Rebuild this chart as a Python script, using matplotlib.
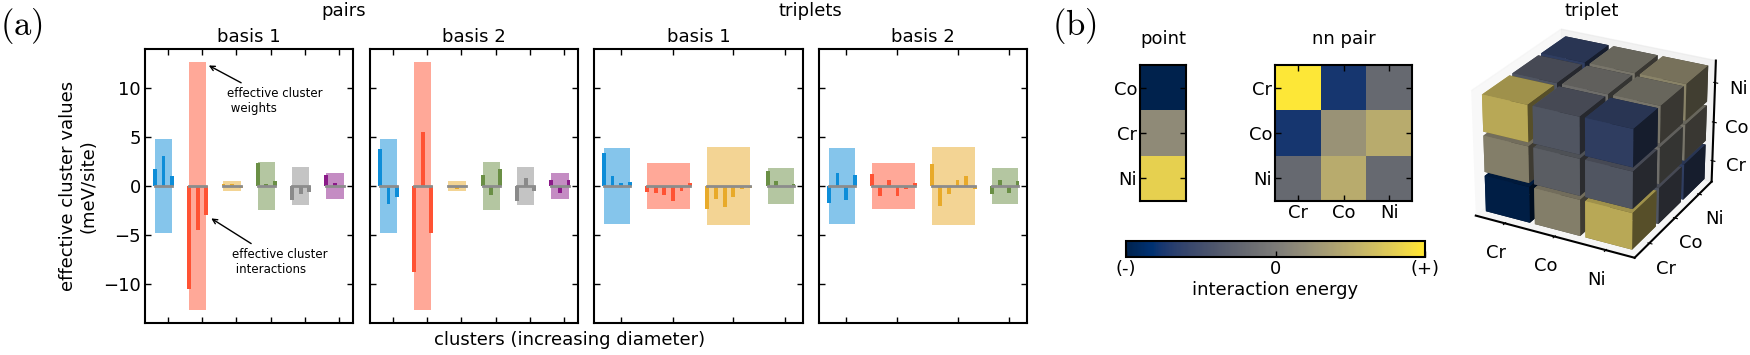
import numpy as np
import matplotlib
matplotlib.use('Agg')
import matplotlib.pyplot as plt
from matplotlib.colors import Normalize

plt.rcParams['mathtext.fontset'] = 'cm'

W, H = 1750, 355

# (a) effective cluster interactions (bars) and weights (shaded boxes), meV/site
pair_colors = ['#0d8dd8', '#ff5233', '#e8aa2a', '#6a8f45', '#8a8a8a', '#8b1a89']
pairs_b1_eci = [[1.7, 3.05, 1.0], [-10.5, -4.5, -2.95], [0.25, 0.25, -0.2],
                [2.4, 0.2, 0.48], [-1.43, -0.82, -0.58], [1.16, 0.27, 0.05]]
pairs_b2_eci = [[3.8, -1.84, -1.1], [-8.74, 5.5, -4.76], [0.05, -0.34, 0.05],
                [1.12, -0.92, 1.75], [-1.5, 0.78, -0.55], [0.6, -0.68, 0.6]]
pairs_ecw = [4.76, 12.7, 0.55, 2.48, 1.93, 1.3]

trip_b1_eci = [[3.33, 1.02, 0.3, 0.4],
               [-0.6, -0.75, -0.88, -1.56, -0.48, 0.3],
               [-2.38, -1.3, -2.18, -1.09, -0.27, -0.17],
               [1.56, 0.48, 0.03, 0.2]]
trip_b2_eci = [[-1.77, 1.3, -1.4, 1.16],
               [1.19, -1.02, 0.6, -1.0, -0.34, 0.3],
               [2.28, -2.0, -0.85, 0.6, 0.99, -0.3],
               [-0.78, 0.58, -0.71, 0.48]]
trip_ecw = [3.91, 2.3, 4.0, 1.87]

# (b) interaction energies, normalised to [-1, 1]
point_labels = ['Co', 'Cr', 'Ni']
point_vals = [[-1.0], [0.16], [0.82]]
elem_labels = ['Cr', 'Co', 'Ni']
nn_pair_vals = [[1.0, -0.76, -0.2],
                [-0.76, 0.24, 0.48],
                [-0.2, 0.48, -0.2]]
# triplet_vals[x][y][z]
triplet_vals = [[[-1.0, 0.2, 0.65], [0.2, -0.2, -0.3], [0.65, -0.3, -0.6]],
                [[0.2, -0.2, -0.3], [-0.2, 0.0, 0.0], [-0.3, 0.0, 0.1]],
                [[0.65, -0.3, -0.6], [-0.3, 0.0, 0.1], [-0.6, 0.1, 0.25]]]


def px_axes(fig, x0, y0, x1, y1, **kw):
    return fig.add_axes([x0 / W, 1 - y1 / H, (x1 - x0) / W, (y1 - y0) / H], **kw)


def draw_ecis(ax, ecis, ecws, colors, title):
    start = 0
    ticks = []
    for vals, w, c in zip(ecis, ecws, colors):
        n = len(vals)
        ax.bar(start, 2 * w, bottom=-w, width=n - 1, align='edge', color=c,
               alpha=0.5, linewidth=0, zorder=1)
        ax.bar(np.arange(start, start + n), vals, width=0.45, color=c,
               linewidth=0, zorder=2)
        ax.plot([start, start + n - 1], [0, 0], color='#8c8c8c', lw=2, zorder=3)
        ticks.append(start + n / 2)
        start += n + 1
    ax.set_xticks(ticks)
    ax.set_xticklabels([])
    ax.set_xlim(-1.15, 23.1)
    ax.set_ylim(-14, 14)
    ax.set_yticks([-10, -5, 0, 5, 10])
    ax.tick_params(direction='in', top=True, right=True, length=4, width=1,
                   labelsize=13, pad=3)
    for s in ax.spines.values():
        s.set_linewidth(1.5)
    ax.set_title(title, fontsize=13, pad=5)


fig = plt.figure(figsize=(17.5, 3.55), dpi=100)

ax1 = px_axes(fig, 145, 49, 353, 323)
draw_ecis(ax1, pairs_b1_eci, pairs_ecw, pair_colors, 'basis 1')
ax1.set_ylabel('effective cluster values\n(meV/site)', fontsize=13, labelpad=4)
ax1.annotate('effective cluster\n weights', xy=(6.0, 12.45), xytext=(14.0, 8.7),
             ha='center', va='center', multialignment='left', fontsize=8.5,
             arrowprops=dict(arrowstyle='->', color='black', lw=1))
ax1.annotate('effective cluster\n interactions', xy=(6.3, -3.16), xytext=(14.6, -7.75),
             ha='center', va='center', multialignment='left', fontsize=8.5,
             arrowprops=dict(arrowstyle='->', color='black', lw=1))

ax2 = px_axes(fig, 370, 49, 578, 323)
draw_ecis(ax2, pairs_b2_eci, pairs_ecw, pair_colors, 'basis 2')
ax2.set_yticklabels([])

ax3 = px_axes(fig, 594, 49, 803, 323)
draw_ecis(ax3, trip_b1_eci, trip_ecw, pair_colors[:4], 'basis 1')
ax3.set_yticklabels([])

ax4 = px_axes(fig, 819, 49, 1027, 323)
draw_ecis(ax4, trip_b2_eci, trip_ecw, pair_colors[:4], 'basis 2')
ax4.set_yticklabels([])

fig.text(0 / W, 1 - 6 / H, r'$\mathrm{(a)}$', fontsize=25, va='top', ha='left')
fig.text(344 / W, 1 - 11 / H, 'pairs', fontsize=13, ha='center', va='center')
fig.text(810 / W, 1 - 11 / H, 'triplets', fontsize=13, ha='center', va='center')
fig.text(570 / W, 1 - 340 / H, 'clusters (increasing diameter)', fontsize=13,
         ha='center', va='center')

# (b)
cmap = plt.get_cmap('cividis')
norm = Normalize(vmin=-1, vmax=1)
fig.text(1052 / W, 1 - 6 / H, r'$\mathrm{(b)}$', fontsize=25, va='top', ha='left')

axp = px_axes(fig, 1140, 65, 1186, 201)
axp.imshow(point_vals, cmap=cmap, norm=norm, aspect='auto', interpolation='nearest')
axp.set_yticks(range(3))
axp.set_yticklabels(point_labels)
axp.set_xticks([])
axp.tick_params(direction='in', left=True, right=True, length=4, width=1,
                labelsize=13, pad=2)
axp.set_title('point', fontsize=13, pad=15)
for s in axp.spines.values():
    s.set_linewidth(1.5)

axn = px_axes(fig, 1275, 65, 1412, 201)
im = axn.imshow(nn_pair_vals, cmap=cmap, norm=norm, aspect='auto',
                interpolation='nearest')
axn.set_xticks(range(3))
axn.set_xticklabels(elem_labels)
axn.set_yticks(range(3))
axn.set_yticklabels(elem_labels)
axn.tick_params(direction='in', left=True, right=True, top=True, bottom=True,
                length=4, width=1, labelsize=13, pad=2)
axn.set_title('nn pair', fontsize=13, pad=15)
for s in axn.spines.values():
    s.set_linewidth(1.5)

cax = px_axes(fig, 1126, 241, 1425, 257)
cb = fig.colorbar(im, cax=cax, orientation='horizontal', ticks=[-1, 0, 1])
cb.ax.set_xticklabels(['(-)', '0', '(+)'])
cb.ax.tick_params(direction='in', length=4, width=1, labelsize=13, pad=2)
cb.outline.set_linewidth(1.5)
cb.set_label('interaction energy', fontsize=13, labelpad=2)

ax3d = px_axes(fig, 1442, -8, 1742, 292, projection='3d')
xs, ys, zs, cols = [], [], [], []
for i in range(3):
    for j in range(3):
        for k in range(3):
            xs.append(i)
            ys.append(j)
            zs.append(k)
            cols.append(cmap(norm(triplet_vals[i][j][k])))
ax3d.bar3d(xs, ys, zs, 0.9, 0.9, 0.9, color=cols, shade=True)
for axis in (ax3d.xaxis, ax3d.yaxis, ax3d.zaxis):
    axis.line.set_linewidth(1.5)
ax3d.set_xticks([0.45, 1.45, 2.45])
ax3d.set_yticks([0.45, 1.45, 2.45])
ax3d.set_zticks([0.45, 1.45, 2.45])
ax3d.set_xticklabels(elem_labels, fontsize=13)
ax3d.set_yticklabels(elem_labels, fontsize=13)
ax3d.set_zticklabels(elem_labels, fontsize=13)
ax3d.set_xlim(-0.15, 3.0)
ax3d.set_ylim(-0.1, 3.0)
ax3d.set_zlim(-0.1, 3.0)
ax3d.grid(False)
ax3d.zaxis.set_ticks_position('upper')
ax3d.view_init(elev=26, azim=-62)
ax3d.set_box_aspect((1, 1, 0.77), zoom=0.925)
fig.text(1592 / W, 1 - 11 / H, 'triplet', fontsize=13, ha='center', va='center')

plt.savefig('out.png', dpi=100)
